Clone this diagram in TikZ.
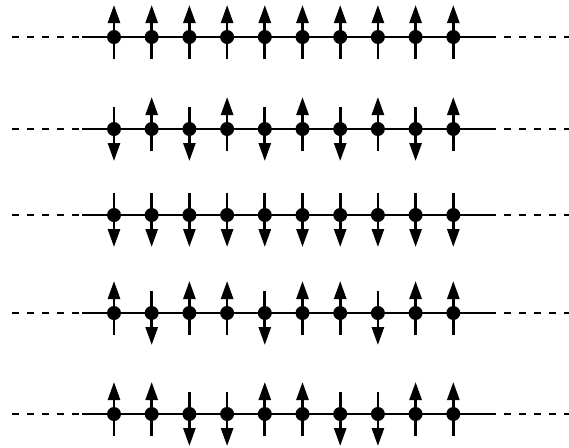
\documentclass[tikz,border=0pt]{standalone}
\usetikzlibrary{arrows.meta}
% spin patterns, 1 = up, -1 = down
\def\rowA{1,1,1,1,1,1,1,1,1,1}
\def\rowB{-1,1,-1,1,-1,1,-1,1,-1,1}
\def\rowC{-1,-1,-1,-1,-1,-1,-1,-1,-1,-1}
\def\rowD{1,-1,1,1,-1,1,1,-1,1,1}
\def\rowE{1,1,-1,-1,1,1,-1,-1,1,1}
\begin{document}
\begin{tikzpicture}[x=0.5pt, y=-0.5pt,
  spin/.style={circle, fill=black, inner sep=0pt, minimum size=7pt},
  bond/.style={line width=1.35pt},
  tail/.style={line width=1.35pt, dash pattern=on 3.5pt off 4pt},
  arr/.style={line width=1.35pt, -{Triangle[length=9pt, width=6pt]}}]
\useasboundingbox (0,0) rectangle (569,447);
\foreach \r/\y/\pat in {a/37/\rowA, b/129/\rowB, c/215/\rowC, d/313/\rowD, e/414/\rowE}{
  \edef\spins{\pat}
  \coordinate (l\r) at (12,\y);
  \coordinate (L\r) at (82,\y);
  \coordinate (R\r) at (496,\y);
  \coordinate (r\r) at (504,\y);
  \draw[tail] (l\r) -- (L\r);
  \draw[bond] (L\r) -- (R\r);
  \draw[tail] (r\r) -- (569,\y);
  \foreach \s [count=\i from 0] in \spins{
    \node[spin] (s\r\i) at (114+37.7*\i,\y) {};
    \coordinate (b\r\i) at ([yshift=-11pt*\s]s\r\i.center);
    \coordinate (h\r\i) at ([yshift=16pt*\s]s\r\i.center);
    \draw[arr] (b\r\i) -- (h\r\i);
  }
}
\end{tikzpicture}
\end{document}
